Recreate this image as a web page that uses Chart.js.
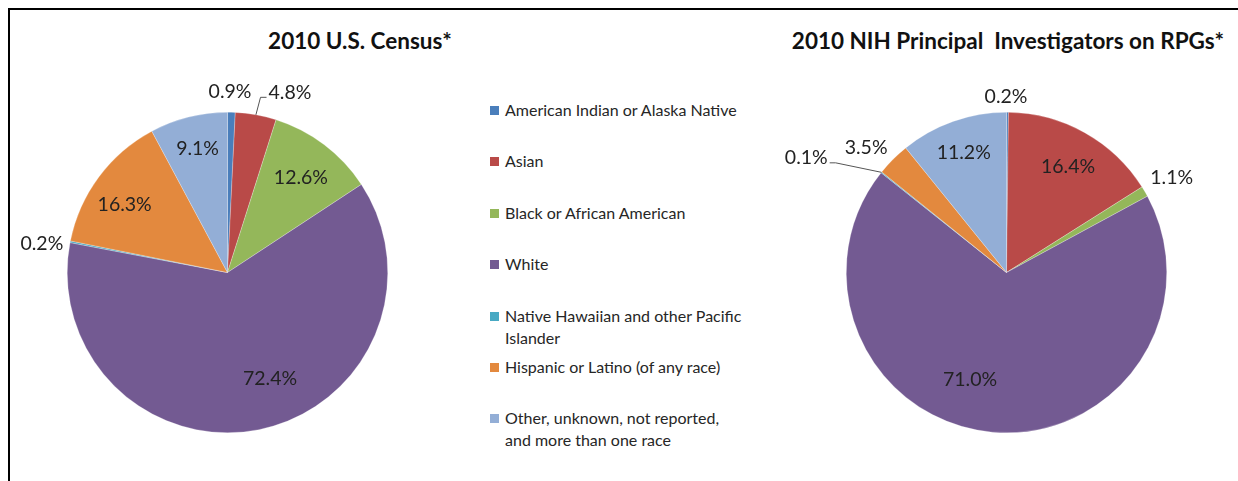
<!DOCTYPE html>
<html>
<head>
<meta charset="utf-8">
<script src="https://cdn.jsdelivr.net/npm/chart.js@4"></script>
<style>
  body { margin: 0; background: #fff; font-family: Lato, "Open Sans", sans-serif; }
  #frame { position: absolute; left: 8px; top: 8px; width: 1240px; height: 480px;
           border-left: 2px solid #000; border-top: 2px solid #000; }
  .title { position: absolute; top: 27px; font-weight: bold; font-size: 22.5px; color: #111;
           white-space: pre; transform: translateX(-50%); line-height: 28px; }
  canvas { position: absolute; }
  #legend { position: absolute; left: 490px; top: 0; }
  .item { position: absolute; left: 0; width: 280px; font-size: 16px; line-height: 22px; color: #262626; }
  .box { position: absolute; left: 0; top: 7px; width: 9px; height: 9px; }
  .txt { position: absolute; left: 15px; top: 0; white-space: nowrap; }
</style>
</head>
<body>
<div id="frame"></div>
<div class="title" style="left:360px">2010 U.S. Census*</div>
<div class="title" style="left:1008px">2010 NIH Principal  Investigators on RPGs*</div>
<canvas id="census" width="440" height="420" style="left:10px;top:60px"></canvas>
<div id="legend"></div>
<canvas id="nih" width="450" height="420" style="left:780px;top:60px"></canvas>
<script>
// categorias y valores (%)
const categorias = [
  'American Indian or Alaska Native',
  'Asian',
  'Black or African American',
  'White',
  ['Native Hawaiian and other Pacific', 'Islander'],
  'Hispanic or Latino (of any race)',
  ['Other, unknown, not reported,', 'and more than one race']
];
const censo2010 = [0.9, 4.8, 12.6, 72.4, 0.2, 16.3, 9.1];
const nih2010 = [0.2, 16.4, 1.1, 71.0, 0.1, 3.5, 11.2];

const colores = ['#4a7ebb', '#b94a48', '#94b75a', '#735a92', '#48a9c3', '#e3893e', '#93aed6'];

// posicion de etiquetas: [factor de radio, giro en grados, linea guia]
const etiquetasCenso = [[1.131, -0.6, 0], [1.19, 8.9, 1], [0.75, 0.5, 0], [0.715, -10.5, 0],
                        [1.172, -2.4, 0], [0.767, -3.4, 0], [0.795, 0.5, 0]];
const etiquetasNih = [[1.10, -0.5, 0], [0.763, 1.0, 0], [1.188, 0.55, 0], [0.705, 13.8, 0],
                      [1.44, -8.9, 1], [1.171, -3.4, 0], [0.793, -0.2, 0]];

const pluginEtiquetas = {
  id: 'etiquetas',
  afterDatasetsDraw(chart, args, opts) {
    const ctx = chart.ctx;
    const meta = chart.getDatasetMeta(0);
    const valores = chart.data.datasets[0].data;
    ctx.save();
    ctx.font = '19.5px Lato, "Open Sans", sans-serif';
    ctx.fillStyle = '#222';
    ctx.strokeStyle = '#555';
    ctx.lineWidth = 1;
    ctx.textAlign = 'center';
    ctx.textBaseline = 'middle';
    meta.data.forEach((arc, i) => {
      const p = arc.getProps(['x', 'y', 'startAngle', 'endAngle', 'outerRadius'], true);
      const [f, giro, guia] = opts.pos[i];
      const mid = (p.startAngle + p.endAngle) / 2;
      const a = mid + giro * Math.PI / 180;
      const tx = p.x + Math.cos(a) * p.outerRadius * f;
      const ty = p.y + Math.sin(a) * p.outerRadius * f;
      const texto = valores[i].toFixed(1) + '%';
      ctx.fillText(texto, tx, ty);
      if (guia) {
        const w = ctx.measureText(texto).width;
        const ex = p.x + Math.cos(mid) * p.outerRadius;
        const ey = p.y + Math.sin(mid) * p.outerRadius;
        const dir = tx > ex ? -1 : 1;
        const fin = tx + dir * (w / 2 + 2);
        const ly = ty + 5;
        ctx.beginPath();
        ctx.moveTo(ex, ey);
        ctx.lineTo(fin + dir * 6, ly);
        ctx.lineTo(fin, ly);
        ctx.stroke();
      }
    });
    ctx.restore();
  }
};

function pastel(id, valores, posiciones, padding) {
  new Chart(document.getElementById(id), {
    type: 'pie',
    data: {
      labels: categorias,
      datasets: [{
        data: valores,
        backgroundColor: colores,
        borderColor: 'rgba(255,255,255,0.5)',
        borderWidth: 0.5
      }]
    },
    options: {
      responsive: false,
      animation: false,
      layout: { padding: padding },
      plugins: {
        legend: { display: false },
        etiquetas: { pos: posiciones }
      }
    },
    plugins: [pluginEtiquetas]
  });
}

pastel('census', censo2010, etiquetasCenso, { left: 57, right: 62, top: 52, bottom: 47 });
pastel('nih', nih2010, etiquetasNih, { left: 66, right: 63, top: 52, bottom: 47 });

// Leyenda compartida
const leyenda = document.getElementById('legend');
categorias.forEach((c, i) => {
  const item = document.createElement('div');
  item.className = 'item';
  item.style.top = (110 + i * 51.4 - 11) + 'px';
  const box = document.createElement('div');
  box.className = 'box';
  box.style.background = colores[i];
  const txt = document.createElement('div');
  txt.className = 'txt';
  txt.innerHTML = [].concat(c).join('<br>');
  item.appendChild(box);
  item.appendChild(txt);
  leyenda.appendChild(item);
});
</script>
</body>
</html>
